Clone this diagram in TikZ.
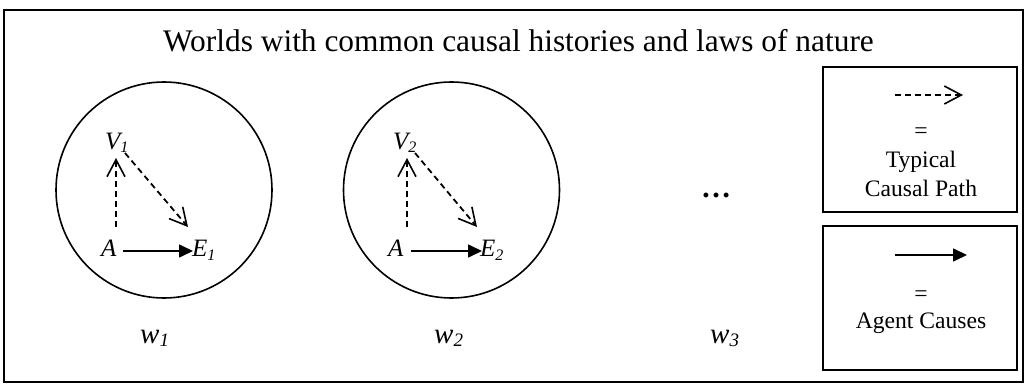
\documentclass[tikz,border=0pt]{standalone}
\usepackage{fontspec}
\setmainfont{Liberation Serif}
\usetikzlibrary{arrows.meta}
\newcommand\mysub[2][16]{\raisebox{-3pt}{\fontsize{#1}{#1}\selectfont #2}}
\begin{document}
\begin{tikzpicture}[x=1pt,y=-1pt,
  outerframe/.style={line width=1.8pt},
  world/.style={draw, circle, line width=1.6pt, minimum size=216pt, inner sep=0pt},
  lbl/.style={inner sep=0pt, anchor=base west, font=\fontsize{25}{25}\selectfont\itshape},
  wlbl/.style={inner sep=0pt, anchor=base west, font=\fontsize{29}{29}\selectfont\itshape},
  legtext/.style={inner sep=0pt, anchor=base, font=\fontsize{23.6}{26}\selectfont},
  legbox/.style={draw, line width=1.8pt, minimum width=194pt, inner sep=0pt},
  typ/.style={line width=1.8pt, dash pattern=on 6pt off 4pt,
    -{Straight Barb[length=17pt, width=18pt, line width=1.6pt]}},
  agent/.style={line width=1.6pt, -{Triangle[length=14pt, width=13pt]}}]
\useasboundingbox (0,0) rectangle (1027,387);
\draw[outerframe] (4,10) rectangle (1023,382);
\node[inner sep=0pt, anchor=base, font=\fontsize{31.4}{36}\selectfont] (title) at (518.5,52)
  {Worlds with common causal histories and laws of nature};
% world 1
\node[world] (c1) at (164,190) {};
\node[lbl] (V1) at (105,150) {V\mysub{1}};
\node[lbl] (A1) at (101,257) {A};
\node[lbl] (E1) at (192,257) {E\mysub{1}};
\coordinate (a1b) at (116,227); \coordinate (v1b) at (116,158);
\coordinate (v1r) at (125,153); \coordinate (e1t) at (188,227);
\coordinate (a1r) at (123,251); \coordinate (e1l) at (193,251);
\draw[typ] (a1b) -- (v1b);
\draw[typ] (v1r) -- (e1t);
\draw[agent] (a1r) -- (e1l);
% world 2
\node[world] (c2) at (451.5,190) {};
\node[lbl] (V2) at (393,150) {V\mysub{2}};
\node[lbl] (A2) at (388,257) {A};
\node[lbl] (E2) at (480,257) {E\mysub{2}};
\coordinate (a2b) at (407,227); \coordinate (v2b) at (407,158);
\coordinate (v2r) at (415,153); \coordinate (e2t) at (477,227);
\coordinate (a2r) at (411,251); \coordinate (e2l) at (482,251);
\draw[typ] (a2b) -- (v2b);
\draw[typ] (v2r) -- (e2t);
\draw[agent] (a2r) -- (e2l);
% ellipsis
\node[inner sep=0pt, anchor=base, font=\fontsize{30}{30}\selectfont\bfseries] (dots) at (716,198) {…};
% world labels
\node[wlbl] (w1) at (140,343) {w\mysub[19]{1}};
\node[wlbl] (w2) at (434,343) {w\mysub[19]{2}};
\node[wlbl] (w3) at (710,343) {w\mysub[19]{3}};
% legend
\node[legbox, minimum height=145pt] (box1) at (920,139.5) {};
\coordinate (l1s) at (895,95); \coordinate (l1e) at (963,95);
\draw[typ] (l1s) -- (l1e);
\node[legtext] (eq1) at (921,139) {=};
\node[legtext] (typical) at (921,168) {Typical};
\node[legtext] (cpath) at (921,197) {Causal Path};
\node[legbox, minimum height=144pt] (box2) at (920,298) {};
\coordinate (l2s) at (895,255); \coordinate (l2e) at (967,255);
\draw[agent] (l2s) -- (l2e);
\node[legtext] (eq2) at (921,301) {=};
\node[legtext] (agentc) at (921,328) {Agent Causes};
\end{tikzpicture}
\end{document}
